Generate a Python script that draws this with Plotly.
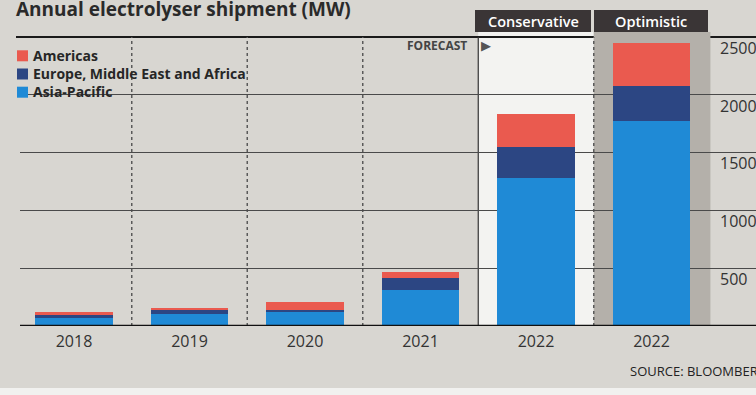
import plotly.graph_objects as go

# ---- data ----
categories = ["2018", "2019", "2020", "2021", "2022", "2022"]
scenario_labels = ["Conservative", "Optimistic"]
series_names = ["Asia-Pacific", "Europe, Middle East and Africa", "Americas"]
asia_pacific = [65, 100, 120, 315, 1280, 1770]
emea = [38, 40, 20, 100, 270, 310]
americas = [15, 20, 70, 50, 280, 370]
y_ticks = [500, 1000, 1500, 2000, 2500]
title_text = "Annual electrolyser shipment (MW)"
source_text = "SOURCE: BLOOMBERG"
forecast_text = "FORECAST"

colors = {"Asia-Pacific": "#1f8ad6", "Europe, Middle East and Africa": "#2c4683", "Americas": "#ea5a4f"}
values = {"Asia-Pacific": asia_pacific, "Europe, Middle East and Africa": emea, "Americas": americas}

W, H = 756, 395
L, R, T, B = 20, 0, 31, 69
PW, PH = W - L - R, H - T - B
x_pos = list(range(len(categories)))
spacing = 115.5
x0 = -54 / spacing
x_range = [x0, x0 + PW / spacing]
YMAX = 2500 * PH / (326 - 37)

def py(p):  # pixel y -> paper
    return (H - B - p) / PH

def px(p):  # pixel x -> paper
    return (p - L) / PW

def dx(p):  # pixel x -> data x
    return (p - 74) / spacing

BG = "#d8d6d1"
FONT = "Open Sans"

fig = go.Figure()
for name in series_names:
    fig.add_trace(go.Bar(
        x=x_pos, y=values[name], name=name, width=0.675,
        marker=dict(color=colors[name], line=dict(width=0)),
        showlegend=False,
    ))

shapes = []
# forecast bands
shapes.append(dict(type="rect", xref="x", yref="paper", x0=3.5, x1=4.5, y0=0, y1=py(32),
                   fillcolor="#f3f3f1", line=dict(width=0), layer="below"))
# top rule at 2500
shapes.append(dict(type="line", xref="paper", yref="y", x0=px(16), x1=1, y0=2500, y1=2500,
                   line=dict(color="#1a1a1a", width=2), layer="below"))
shapes.append(dict(type="rect", xref="x", yref="paper", x0=4.5, x1=5.51, y0=0, y1=py(32),
                   fillcolor="#b4b0aa", line=dict(width=0), layer="between"))
# vertical separators
for xv in [0.5, 1.5, 2.5, 4.5]:
    shapes.append(dict(type="line", xref="x", yref="y", x0=xv, x1=xv, y0=0, y1=2500,
                       line=dict(color="#5a5a5a", width=1.5, dash="dot"), layer="below"))
shapes.append(dict(type="line", xref="x", yref="y", x0=3.5, x1=3.5, y0=0, y1=2500,
                   line=dict(color="#333333", width=1.2), layer="below"))
# header boxes
shapes.append(dict(type="rect", xref="x", yref="paper", x0=dx(475), x1=dx(591), y0=py(32), y1=py(10),
                   fillcolor="#3a3536", line=dict(width=0)))
shapes.append(dict(type="rect", xref="x", yref="paper", x0=dx(594), x1=dx(708), y0=py(32), y1=py(10),
                   fillcolor="#3a3536", line=dict(width=0)))
# baseline
shapes.append(dict(type="line", xref="paper", yref="y", x0=0, x1=1, y0=0, y1=0,
                   line=dict(color="#111111", width=2.5), layer="above"))
# bottom white paper edge
shapes.append(dict(type="rect", xref="paper", yref="paper", x0=px(0), x1=1, y0=py(395), y1=py(388),
                   fillcolor="#f1f1ef", line=dict(width=0), layer="above"))

# custom legend (top to bottom: Americas, EMEA, Asia-Pacific)
legend_rows = list(reversed(series_names))
LEG_FS = 14
line_h = 1.3 * LEG_FS
mid_y = 73.5
annotations = []
for i, name in enumerate(legend_rows):
    yc = mid_y + (i - 1) * line_h
    shapes.append(dict(type="rect", xref="paper", yref="paper", x0=px(17), x1=px(28),
                       y0=py(yc + 6), y1=py(yc - 5), fillcolor=colors[name], line=dict(width=0)))
annotations.append(dict(text="<br>".join(legend_rows), xref="paper", yref="paper", x=px(31), y=py(mid_y),
                        xanchor="left", yanchor="middle", align="left", showarrow=False,
                        font=dict(family=FONT, size=LEG_FS, color="#262626", weight="bold")))

annotations.append(dict(text=title_text, xref="paper", yref="paper", x=px(14), y=py(8.6), xanchor="left",
                        yanchor="middle", showarrow=False,
                        font=dict(family=FONT, size=19, color="#2a2a2a", weight="bold")))
annotations.append(dict(text=scenario_labels[0], xref="x", yref="paper", x=(dx(475) + dx(591)) / 2, y=py(21),
                        xanchor="center", yanchor="middle", showarrow=False,
                        font=dict(family=FONT, size=14.5, color="#ffffff", weight=600)))
annotations.append(dict(text=scenario_labels[1], xref="x", yref="paper", x=(dx(594) + dx(708)) / 2, y=py(21),
                        xanchor="center", yanchor="middle", showarrow=False,
                        font=dict(family=FONT, size=14.5, color="#ffffff", weight=600)))
annotations.append(dict(text=forecast_text, xref="x", yref="paper", x=dx(469), y=py(46), xanchor="right",
                        yanchor="middle", showarrow=False,
                        font=dict(family=FONT, size=12, color="#444444", weight="bold")))
annotations.append(dict(text="▶", xref="x", yref="paper", x=dx(486), y=py(46), xanchor="center",
                        yanchor="middle", showarrow=False,
                        font=dict(family="DejaVu Sans", size=13, color="#555555")))
annotations.append(dict(text=source_text, xref="paper", yref="paper", x=px(628), y=py(371), xanchor="left",
                        yanchor="middle", showarrow=False,
                        font=dict(family=FONT, size=13, color="#222222")))

fig.update_layout(
    width=W, height=H,
    margin=dict(l=L, r=R, t=T, b=B, pad=0),
    paper_bgcolor=BG, plot_bgcolor=BG,
    barmode="stack",
    showlegend=False,
    shapes=shapes, annotations=annotations,
    xaxis=dict(range=x_range, tickvals=x_pos, ticktext=categories, showgrid=False, zeroline=False,
               showline=False, ticks="", ticklabelstandoff=4,
               tickfont=dict(family=FONT, size=16, color="#333333"), fixedrange=True),
    yaxis=dict(range=[0, YMAX], tickvals=y_ticks[:-1], showticklabels=False, showgrid=True,
               gridcolor="#4a4a4a", gridwidth=1, zeroline=False, showline=False, ticks="",
               fixedrange=True),
    yaxis2=dict(range=[0, YMAX], overlaying="y", side="right", anchor="free", position=px(719),
                tickvals=y_ticks, showgrid=False, zeroline=False, showline=False, ticks="",
                ticklabelposition="outside bottom",
                tickfont=dict(family=FONT, size=16, color="#333333"), fixedrange=True),
)
# invisible trace to activate the right-hand axis
fig.add_trace(go.Scatter(x=[x_pos[0]], y=[0], yaxis="y2", mode="markers", marker=dict(opacity=0),
                         showlegend=False, hoverinfo="skip"))

fig.write_html("out.html", config={"displayModeBar": False},
               post_script="document.body.style.margin='0';document.body.style.overflow='hidden';")
